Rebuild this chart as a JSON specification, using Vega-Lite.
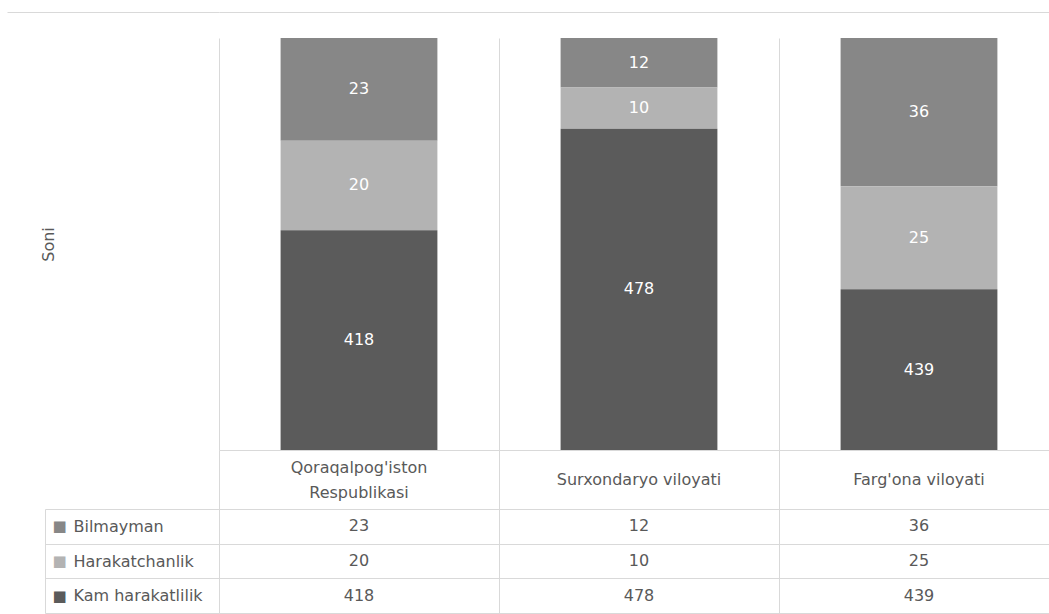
{
  "$schema": "https://vega.github.io/schema/vega-lite/v6.json",
  "padding": {"left": 6, "top": 11, "right": 0, "bottom": 0},
  "spacing": 0,
  "bounds": "flush",
  "config": {
    "view": {"stroke": null},
    "font": "DejaVu Sans",
    "text": {"font": "DejaVu Sans"},
    "axis": {"labelFont": "DejaVu Sans", "titleFont": "DejaVu Sans"}
  },
  "datasets": {
    "survey": [
      {"region": "Qoraqalpog'iston Respublikasi", "series": "Bilmayman", "value": 23},
      {"region": "Qoraqalpog'iston Respublikasi", "series": "Harakatchanlik", "value": 20},
      {"region": "Qoraqalpog'iston Respublikasi", "series": "Kam harakatlilik", "value": 418},
      {"region": "Surxondaryo viloyati", "series": "Bilmayman", "value": 12},
      {"region": "Surxondaryo viloyati", "series": "Harakatchanlik", "value": 10},
      {"region": "Surxondaryo viloyati", "series": "Kam harakatlilik", "value": 478},
      {"region": "Farg'ona viloyati", "series": "Bilmayman", "value": 36},
      {"region": "Farg'ona viloyati", "series": "Harakatchanlik", "value": 25},
      {"region": "Farg'ona viloyati", "series": "Kam harakatlilik", "value": 439}
    ],
    "regions": [
      {"region": "Qoraqalpog'iston Respublikasi", "label": ["Qoraqalpog'iston", "Respublikasi"]},
      {"region": "Surxondaryo viloyati", "label": "Surxondaryo viloyati"},
      {"region": "Farg'ona viloyati", "label": "Farg'ona viloyati"}
    ]
  },
  "vconcat": [
    {
      "width": 828,
      "height": 412,
      "data": {"name": "survey"},
      "transform": [
        {"stack": "value", "groupby": ["region"], "offset": "normalize", "sort": [{"field": "series", "order": "descending"}], "as": ["y0", "y1"]},
        {"calculate": "(max(datum.y0, 0.8) + datum.y1) / 2", "as": "mid"}
      ],
      "layer": [
        {
          "mark": {"type": "bar", "clip": true, "width": {"band": 0.56}},
          "encoding": {
            "x": {
              "field": "region", "type": "nominal", "sort": null,
              "scale": {"type": "band", "domain": ["Qoraqalpog'iston Respublikasi", "Surxondaryo viloyati", "Farg'ona viloyati"], "range": [0, 840], "paddingInner": 0, "paddingOuter": 0},
              "axis": {"orient": "bottom", "title": null, "labels": false, "ticks": false, "domain": false, "grid": true, "gridColor": "#d9d9d9", "tickBand": "extent", "values": ["Qoraqalpog'iston Respublikasi", "Surxondaryo viloyati"]}
            },
            "y": {"field": "y1", "type": "quantitative", "scale": {"domain": [0.8, 1], "zero": false, "nice": false},
              "axis": {"orient": "left", "title": "Soni", "titleFontSize": 16, "titleColor": "#595959", "titleFontWeight": "normal", "titlePadding": 163, "labels": false, "ticks": false, "domain": false, "grid": false}},
            "y2": {"field": "y0"},
            "color": {"field": "series", "type": "nominal", "scale": {"domain": ["Bilmayman", "Harakatchanlik", "Kam harakatlilik"], "range": ["#878787", "#b3b3b3", "#5b5b5b"]}, "legend": null}
          }
        },
        {
          "mark": {"type": "text", "color": "white", "fontSize": 16},
          "encoding": {
            "x": {
              "field": "region", "type": "nominal", "sort": null,
              "scale": {"type": "band", "domain": ["Qoraqalpog'iston Respublikasi", "Surxondaryo viloyati", "Farg'ona viloyati"], "range": [0, 840], "paddingInner": 0, "paddingOuter": 0},
              "axis": {"orient": "top", "offset": 26, "title": null, "labels": false, "ticks": false, "domain": true, "domainColor": "#d9d9d9", "grid": false}
            },
            "y": {"field": "mid", "type": "quantitative", "scale": {"domain": [0.8, 1], "zero": false, "nice": false},
              "axis": {"orient": "left", "title": null, "values": [1], "tickOffset": -26, "labels": false, "ticks": true, "tickSize": 212, "tickColor": "#d9d9d9", "domain": false, "grid": false}},
            "text": {"field": "value", "type": "quantitative"}
          }
        }
      ],
      "resolve": {"scale": {"x": "independent", "y": "independent"}, "axis": {"x": "independent", "y": "independent"}}
    },
    {
      "width": 828,
      "height": 59,
      "data": {"name": "regions"},
      "encoding": {
        "x": {
          "field": "region", "type": "nominal", "sort": null,
          "scale": {"type": "band", "domain": ["Qoraqalpog'iston Respublikasi", "Surxondaryo viloyati", "Farg'ona viloyati"], "range": [0, 840], "paddingInner": 0, "paddingOuter": 0},
          "axis": {"title": null, "labels": false, "ticks": false, "domain": false, "grid": true, "gridColor": "#d9d9d9", "tickBand": "extent", "values": ["Qoraqalpog'iston Respublikasi", "Surxondaryo viloyati"]}
        },
        "y": {"datum": "header", "type": "nominal", "scale": {"type": "band", "paddingInner": 0, "paddingOuter": 0},
          "axis": {"title": null, "labels": false, "ticks": false, "domain": false, "grid": true, "gridColor": "#d9d9d9", "tickBand": "extent"}},
        "text": {"field": "label", "type": "nominal"}
      },
      "layer": [
        {
          "transform": [{"filter": "!isArray(datum.label)"}],
          "mark": {"type": "text", "fontSize": 16, "color": "#595959"}
        },
        {
          "transform": [{"filter": "isArray(datum.label)"}],
          "mark": {"type": "text", "fontSize": 16, "color": "#595959", "lineHeight": 25, "dy": -12}
        }
      ]
    },
    {
      "width": 828,
      "height": 104,
      "data": {"name": "survey"},
      "encoding": {
        "x": {
          "field": "region", "type": "nominal", "sort": null,
          "scale": {"type": "band", "domain": ["Qoraqalpog'iston Respublikasi", "Surxondaryo viloyati", "Farg'ona viloyati"], "range": [0, 840], "paddingInner": 0, "paddingOuter": 0},
          "axis": {"title": null, "labels": false, "ticks": false, "domain": false, "grid": true, "gridColor": "#d9d9d9", "tickBand": "extent", "values": ["Qoraqalpog'iston Respublikasi", "Surxondaryo viloyati"]}
        },
        "text": {"field": "value", "type": "quantitative"}
      },
      "layer": [
        {
          "mark": {"type": "text", "fontSize": 16, "color": "#595959"},
          "encoding": {
            "y": {"field": "series", "type": "nominal", "sort": null,
              "scale": {"type": "band", "domain": ["Bilmayman", "Harakatchanlik", "Kam harakatlilik"], "paddingInner": 0, "paddingOuter": 0},
              "axis": {"orient": "left", "title": null, "grid": true, "gridColor": "#d9d9d9", "tickBand": "extent", "ticks": true, "tickSize": 174, "tickColor": "#d9d9d9", "domain": true, "domainColor": "#d9d9d9", "labelAlign": "left", "labelBaseline": "middle", "labelPadding": -28, "labelFontSize": 16, "labelColor": "#595959", "labelLimit": 200}}
          }
        },
        {
          "mark": {"type": "text", "fontSize": 16, "opacity": 0},
          "encoding": {
            "y": {"field": "series", "type": "nominal", "sort": null,
              "scale": {"type": "band", "domain": ["Bilmayman", "Harakatchanlik", "Kam harakatlilik"], "paddingInner": 0, "paddingOuter": 0},
              "axis": {"orient": "left", "offset": 174, "title": null, "grid": false, "ticks": false, "domain": true, "domainColor": "#d9d9d9", "labelExpr": "'■'", "labelAlign": "center", "labelBaseline": "middle", "labelPadding": -14, "labelFontSize": 15,
                "labelColor": {"condition": [{"test": "datum.value === 'Bilmayman'", "value": "#878787"}, {"test": "datum.value === 'Harakatchanlik'", "value": "#b3b3b3"}], "value": "#5b5b5b"}}}
          }
        }
      ],
      "resolve": {"scale": {"y": "independent"}, "axis": {"y": "independent"}}
    }
  ]
}
